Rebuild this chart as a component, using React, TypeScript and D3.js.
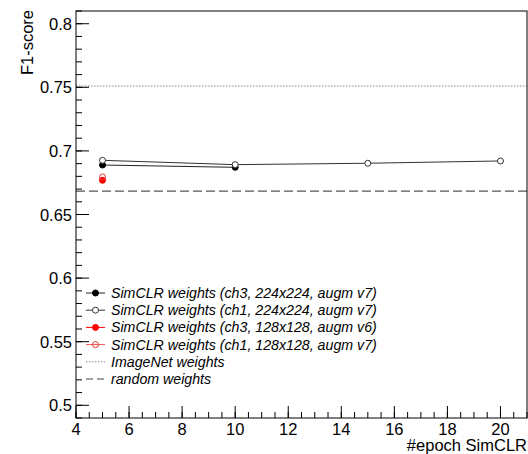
import React from "react";
import * as d3 from "d3";

const W = 528;
const H = 454;

const xTicks = [4, 6, 8, 10, 12, 14, 16, 18, 20];
const yTicks = [0.5, 0.55, 0.6, 0.65, 0.7, 0.75, 0.8];
const yTickLabels = ["0.5", "0.55", "0.6", "0.65", "0.7", "0.75", "0.8"];

const epochsCh3_224 = [5, 10];
const f1Ch3_224 = [0.6889, 0.6871];
const epochsCh1_224 = [5, 10, 15, 20];
const f1Ch1_224 = [0.6926, 0.6892, 0.6903, 0.6921];
const epochsCh3_128 = [5];
const f1Ch3_128 = [0.6769];
const epochsCh1_128 = [5];
const f1Ch1_128 = [0.6795];
const imagenetF1 = 0.751;
const randomF1 = 0.6683;

const legendLabels = [
  "SimCLR weights (ch3, 224x224, augm v7)",
  "SimCLR weights (ch1, 224x224, augm v7)",
  "SimCLR weights (ch3, 128x128, augm v6)",
  "SimCLR weights (ch1, 128x128, augm v7)",
  "ImageNet weights",
  "random weights",
];

const FONT = "'Liberation Sans', Arial, Helvetica, sans-serif";

export default function App() {
  const left = 76, right = 527, top = 11, bottom = 418;
  const x = d3.scaleLinear().domain([4, 21]).range([left, right]);
  const y = d3.scaleLinear().domain([0.49, 0.81]).range([bottom, top]);

  const xMinor = d3.range(0, 35).map((i) => 4 + i * 0.5);
  const yMinor = d3.range(0, 33).map((i) => 0.49 + i * 0.01);

  const line = d3
    .line<[number, number]>()
    .x((d) => x(d[0]))
    .y((d) => y(d[1]));

  const series = [
    { xs: epochsCh3_224, ys: f1Ch3_224, color: "#000", fill: "#000", line: "#222" },
    { xs: epochsCh1_224, ys: f1Ch1_224, color: "#333", fill: "#fff", line: "#333" },
    { xs: epochsCh3_128, ys: f1Ch3_128, color: "#f00", fill: "#f00", line: "#f00" },
    { xs: epochsCh1_128, ys: f1Ch1_128, color: "#e33", fill: "none", line: "#e55" },
  ];

  const legX0 = 86, legX1 = 105, legTx = 111, legY0 = 293, legDy = 17.2;

  return (
    <svg
      width={W}
      height={H}
      style={{ position: "fixed", left: 0, top: 0, background: "#fff" }}
      fontFamily={FONT}
    >
      <rect x={0} y={0} width={W} height={H} fill="#fff" />
      {/* reference lines */}
      <line x1={left} x2={right} y1={y(imagenetF1)} y2={y(imagenetF1)} stroke="#888" strokeWidth={1} strokeDasharray="1.5,1.5" />
      <line x1={left} x2={right} y1={y(randomF1)} y2={y(randomF1)} stroke="#555" strokeWidth={1.2} strokeDasharray="9,4" />

      {/* series lines */}
      {series.map((s, i) =>
        s.xs.length > 1 ? (
          <path
            key={"l" + i}
            d={line(s.xs.map((v, j) => [v, s.ys[j]] as [number, number])) || ""}
            fill="none"
            stroke={s.line}
            strokeWidth={1}
          />
        ) : null
      )}
      {/* markers */}
      {series.map((s, i) =>
        s.xs.map((v, j) => (
          <circle
            key={"m" + i + "_" + j}
            cx={x(v)}
            cy={y(s.ys[j])}
            r={3}
            fill={s.fill === "none" ? "none" : s.fill}
            stroke={s.color}
            strokeWidth={1}
          />
        ))
      )}

      {/* frame */}
      <rect x={left} y={top} width={right - left} height={bottom - top} fill="none" stroke="#000" strokeWidth={1} />

      {/* y ticks */}
      {yMinor.map((v, i) => (
        <line key={"ym" + i} x1={left} x2={left + 6} y1={y(v)} y2={y(v)} stroke="#000" strokeWidth={1} />
      ))}
      {yTicks.map((v, i) => (
        <g key={"yt" + i}>
          <line x1={left} x2={left + 13} y1={y(v)} y2={y(v)} stroke="#000" strokeWidth={1} />
          <text x={left - 4} y={y(v) + 6} textAnchor="end" fontSize={16.5} fill="#000">
            {yTickLabels[i]}
          </text>
        </g>
      ))}

      {/* x ticks */}
      {xMinor.map((v, i) => (
        <line key={"xm" + i} x1={x(v)} x2={x(v)} y1={bottom} y2={bottom - 6} stroke="#000" strokeWidth={1} />
      ))}
      {xTicks.map((v, i) => (
        <g key={"xt" + i}>
          <line x1={x(v)} x2={x(v)} y1={bottom} y2={bottom - 12} stroke="#000" strokeWidth={1} />
          <text x={x(v)} y={435} textAnchor="middle" fontSize={16.5} fill="#000">
            {String(v)}
          </text>
        </g>
      ))}

      {/* axis titles */}
      <text x={527} y={451} textAnchor="end" fontSize={16.5} fill="#000">
        #epoch SimCLR
      </text>
      <text transform="translate(33,10) rotate(-90)" textAnchor="end" fontSize={16.5} fill="#000">
        F1-score
      </text>

      {/* legend */}
      {legendLabels.map((lab, i) => {
        const ly = legY0 + i * legDy;
        let marker: React.ReactNode = null;
        let stroke = "#000";
        let dash: string | undefined = undefined;
        if (i < 4) {
          const s = series[i];
          stroke = s.line;
          marker = (
            <circle cx={(legX0 + legX1) / 2} cy={ly} r={3} fill={s.fill} stroke={s.color} strokeWidth={1} />
          );
        } else if (i === 4) {
          stroke = "#888";
          dash = "1.5,1.5";
        } else {
          stroke = "#444";
          dash = "7,4";
        }
        return (
          <g key={"lg" + i}>
            <line x1={legX0} x2={legX1} y1={ly} y2={ly} stroke={stroke} strokeWidth={1} strokeDasharray={dash} />
            {marker}
            <text x={legTx} y={ly + 5} fontSize={14.2} fontStyle="italic" fill="#000">
              {lab}
            </text>
          </g>
        );
      })}
    </svg>
  );
}
